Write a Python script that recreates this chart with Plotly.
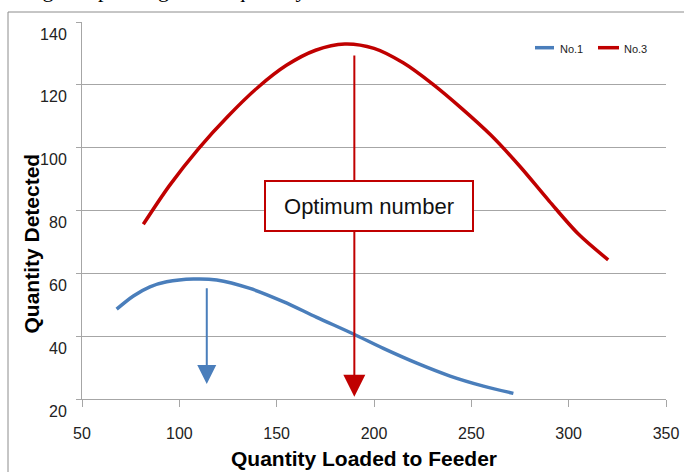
import plotly.graph_objects as go

# Quantity loaded to feeder vs. quantity detected, two feeder settings
no1_x = [67.8, 76.4, 84.9, 93.5, 107.2, 119.2, 136.3, 153.4, 170.6, 189.4, 204.8, 222.0, 239.1, 256.2, 271.6]
no1_y = [48.6, 52.8, 55.7, 57.3, 58.2, 57.9, 55.2, 51.0, 46.0, 40.7, 36.1, 31.4, 27.3, 24.1, 21.8]

no3_x = [81.5, 95, 110, 125, 140, 155, 170, 185, 200, 215, 230, 245, 260, 275, 290, 305, 320.3]
no3_y = [75.6, 88.0, 99.8, 110.0, 119.0, 126.2, 131.0, 133.0, 131.6, 127.0, 120.3, 112.5, 104.0, 94.0, 83.0, 72.5, 64.3]

# Arrows marking the peak of each curve: (x, y_start, y_end)
no1_peak_arrow = (114.1, 55.7, 24.8)
no3_peak_arrow = (189.9, 129.8, 20.7)

x_ticks = [50, 100, 150, 200, 250, 300, 350]
y_ticks = [20, 40, 60, 80, 100, 120, 140]

BLUE = "#4a7ebb"
RED = "#c00000"
GRID = "#a6a6a6"
SANS = "Liberation Sans, Arial"

fig = go.Figure()
fig.add_trace(go.Scatter(x=no1_x, y=no1_y, mode="lines", name="No.1",
                         line=dict(color=BLUE, width=3.5, shape="spline", smoothing=0.9)))
fig.add_trace(go.Scatter(x=no3_x, y=no3_y, mode="lines", name="No.3",
                         line=dict(color=RED, width=3.5, shape="spline", smoothing=0.9)))


# Plot area spans x 82..666 px and y 22..399 px of the page
def px_x(p):
    return (p - 82) / 584.0


def px_y(p):
    return (399 - p) / 377.0


annotations = []
for (ax_x, y0, y1), col, head in [(no1_peak_arrow, BLUE, 1.9), (no3_peak_arrow, RED, 2.2)]:
    annotations.append(dict(
        x=ax_x, y=y1, ax=ax_x, ay=y0, xref="x", yref="y", axref="x", ayref="y",
        text="", showarrow=True, arrowhead=2, arrowsize=head, arrowwidth=2,
        arrowcolor=col, standoff=0, startstandoff=0,
    ))

# Call-out box over the red arrow
annotations.append(dict(
    x=px_x(369), y=px_y(206), xref="paper", yref="paper", text="Optimum number",
    showarrow=False, width=206, height=48, bgcolor="white",
    bordercolor=RED, borderwidth=2, borderpad=0,
    font=dict(family=SANS, size=22, color="#111111"),
    xanchor="center", yanchor="middle",
))

# Legend drawn as line samples and labels
shapes = []
for name, col, x0, x1, tx in [("No.1", BLUE, 535, 554, 558), ("No.3", RED, 598, 619, 622)]:
    shapes.append(dict(type="line", xref="paper", yref="paper",
                       x0=px_x(x0), x1=px_x(x1), y0=px_y(47.7), y1=px_y(47.7),
                       line=dict(color=col, width=3.5)))
    annotations.append(dict(x=px_x(tx), y=px_y(48.5), xref="paper", yref="paper",
                            text=name, showarrow=False, xanchor="left", yanchor="middle",
                            font=dict(family=SANS, size=11, color="#222222")))

# Axis titles
annotations.append(dict(x=px_x(363.5), y=px_y(458), xref="paper", yref="paper",
                        text="<b>Quantity Loaded to Feeder</b>", showarrow=False,
                        xanchor="center", yanchor="middle",
                        font=dict(family=SANS, size=21, color="#000000")))
annotations.append(dict(x=px_x(31), y=px_y(243.5), xref="paper", yref="paper",
                        text="<b>Quantity Detected</b>", showarrow=False, textangle=-90,
                        xanchor="center", yanchor="middle",
                        font=dict(family=SANS, size=21, color="#000000")))

# Outer chart frame
shapes.append(dict(type="rect", xref="paper", yref="paper",
                   x0=px_x(8), x1=px_x(700), y0=px_y(490), y1=px_y(12),
                   line=dict(color="#8c8c8c", width=1), fillcolor="rgba(0,0,0,0)", layer="below"))

# Trailing line of the surrounding document text
annotations.append(dict(x=px_x(-1), y=px_y(4), xref="paper", yref="paper",
                        text="changes depending on the quantity loaded.", showarrow=False,
                        xanchor="left", yanchor="bottom",
                        font=dict(family="Liberation Serif, Times New Roman", size=22, color="#000000")))

fig.update_layout(
    width=684, height=472,
    margin=dict(l=82, r=18, t=22, b=73),
    paper_bgcolor="white", plot_bgcolor="white",
    showlegend=False,
    shapes=shapes, annotations=annotations,
)

fig.update_xaxes(
    range=[50, 350], tickvals=x_ticks, ticktext=[str(v) for v in x_ticks],
    automargin=False, showgrid=False, zeroline=False,
    showline=True, linecolor=GRID, linewidth=1,
    ticks="outside", ticklen=7, tickcolor=GRID, tickwidth=1,
    ticklabelstandoff=13,
    tickfont=dict(family=SANS, size=16, color="#222222"),
)
fig.update_yaxes(
    range=[20, 140], tickvals=y_ticks, ticktext=[str(v) for v in y_ticks],
    automargin=False, showgrid=True, gridcolor=GRID, gridwidth=1, zeroline=False,
    showline=True, linecolor=GRID, linewidth=1,
    ticks="outside", ticklen=5, tickcolor=GRID, tickwidth=1,
    ticklabelshift=12, ticklabelstandoff=6,
    tickfont=dict(family=SANS, size=16, color="#222222"),
)

fig.write_html("out.html")
